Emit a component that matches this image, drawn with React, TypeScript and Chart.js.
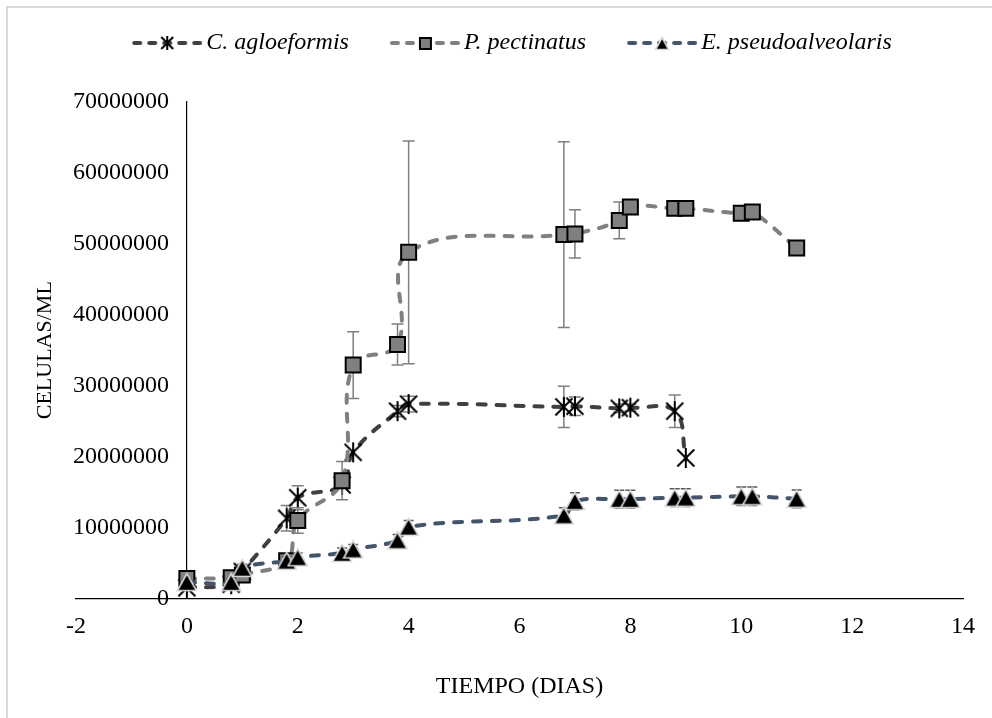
import React, { useEffect, useRef } from 'react';
import { Chart, registerables } from 'chart.js';

Chart.register(...registerables);

// ---------- data ----------
const SERIES_NAMES = ['C. agloeformis', 'P. pectinatus', 'E. pseudoalveolaris'];

const DAYS_C = [0, 0.8, 1, 1.8, 2, 2.8, 3, 3.8, 4, 6.8, 7, 7.8, 8, 8.8, 9];
const CELLS_C = [1500000, 2000000, 3800000, 11300000, 14200000, 16000000, 20600000, 26400000, 27400000, 27000000, 27100000, 26800000, 26900000, 26400000, 19800000];
const ERR_C = [0, 0, 0, 1800000, 1700000, 0, 0, 800000, 1100000, 2900000, 1300000, 600000, 500000, 2300000, 0];

const DAYS_P = [0, 0.8, 1, 1.8, 2, 2.8, 3, 3.8, 4, 6.8, 7, 7.8, 8, 8.8, 9, 10, 10.2, 11];
const CELLS_P = [2800000, 2900000, 3300000, 5300000, 11000000, 16600000, 32900000, 35800000, 48800000, 51300000, 51400000, 53300000, 55200000, 55000000, 55000000, 54300000, 54500000, 49400000];
const ERR_P = [0, 0, 0, 0, 1800000, 2700000, 4700000, 2900000, 15700000, 13100000, 3400000, 2600000, 500000, 0, 0, 0, 0, 0];

const DAYS_E = [0, 0.8, 1, 1.8, 2, 2.8, 3, 3.8, 4, 6.8, 7, 7.8, 8, 8.8, 9, 10, 10.2, 11];
const CELLS_E = [2300000, 2300000, 4300000, 5300000, 5800000, 6400000, 6900000, 8200000, 10100000, 11700000, 13700000, 14000000, 14000000, 14200000, 14200000, 14400000, 14400000, 14050000];
const ERR_E = [400000, 400000, 500000, 600000, 600000, 700000, 700000, 800000, 900000, 1100000, 1200000, 1250000, 1250000, 1250000, 1250000, 1300000, 1300000, 1250000];

const X_MIN = -2;
const X_MAX = 14;
const X_STEP = 2;
const Y_MIN = 0;
const Y_MAX = 70000000;
const Y_STEP = 10000000;

const X_TITLE = 'TIEMPO (DIAS)';
const Y_TITLE = 'CELULAS/ML';

// ---------- styles ----------
const FONT = 'Liberation Serif';
const COLOR_C = '#404040';
const COLOR_P = '#808080';
const COLOR_E = '#44546A';
const LEGEND_BOX = 93;

function asteriskCanvas(size: number, lw: number): HTMLCanvasElement {
  const c = document.createElement('canvas');
  c.width = size;
  c.height = size;
  const g = c.getContext('2d')!;
  g.strokeStyle = '#000';
  g.lineWidth = lw;
  const h = size / 2;
  const a = h - 1;
  g.beginPath();
  g.moveTo(h, h - a);
  g.lineTo(h, h + a);
  g.moveTo(h - a * 0.85, h - a * 0.85);
  g.lineTo(h + a * 0.85, h + a * 0.85);
  g.moveTo(h + a * 0.85, h - a * 0.85);
  g.lineTo(h - a * 0.85, h + a * 0.85);
  g.stroke();
  return c;
}

function triangleCanvas(w: number, hgt: number): HTMLCanvasElement {
  const c = document.createElement('canvas');
  c.width = w;
  c.height = hgt;
  const g = c.getContext('2d')!;
  g.beginPath();
  g.moveTo(w / 2, 1.5);
  g.lineTo(w - 1.5, hgt - 1.5);
  g.lineTo(1.5, hgt - 1.5);
  g.closePath();
  g.fillStyle = '#000';
  g.fill();
  g.strokeStyle = '#d9d9d9';
  g.lineWidth = 1.6;
  g.stroke();
  return c;
}

function squareCanvas(s: number): HTMLCanvasElement {
  const c = document.createElement('canvas');
  c.width = s + 2;
  c.height = s + 2;
  const g = c.getContext('2d')!;
  g.fillStyle = COLOR_P;
  g.fillRect(1, 1, s, s);
  g.strokeStyle = '#000';
  g.lineWidth = 2;
  g.strokeRect(2, 2, s - 2, s - 2);
  return c;
}

function legendIcon(lineColor: string, marker: HTMLCanvasElement): HTMLCanvasElement {
  const W = LEGEND_BOX + 16;
  const H = 24;
  const c = document.createElement('canvas');
  c.width = W;
  c.height = H;
  const g = c.getContext('2d')!;
  const cx = W / 2 + (LEGEND_BOX / 2 - 27);
  const cy = H / 2;
  g.strokeStyle = lineColor;
  g.lineWidth = 4;
  g.lineCap = 'round';
  g.setLineDash([6, 9]);
  g.beginPath();
  g.moveTo(cx - 33, cy);
  g.lineTo(cx + 33, cy);
  g.stroke();
  g.setLineDash([]);
  g.drawImage(marker, Math.round(cx - marker.width / 2), Math.round(cy - marker.height / 2));
  return c;
}

const SERIES_ERR = [
  { days: DAYS_C, cells: CELLS_C, err: ERR_C, color: '#7f7f7f', cap: 6 },
  { days: DAYS_P, cells: CELLS_P, err: ERR_P, color: '#7f7f7f', cap: 6 },
  { days: DAYS_E, cells: CELLS_E, err: ERR_E, color: '#595959', cap: 5 },
];

const errorBarPlugin = {
  id: 'errorBars',
  beforeDatasetDraw(chart: any, args: any) {
    const s = SERIES_ERR[args.index];
    if (!s) return;
    const { ctx } = chart;
    const xs = chart.scales.x;
    const ys = chart.scales.y;
    ctx.save();
    ctx.strokeStyle = s.color;
    ctx.lineWidth = 1.5;
    s.days.forEach((d: number, i: number) => {
      const e = s.err[i];
      if (!e) return;
      const px = xs.getPixelForValue(d);
      const t = ys.getPixelForValue(s.cells[i] + e);
      const b = ys.getPixelForValue(s.cells[i] - e);
      ctx.beginPath();
      ctx.moveTo(px, t);
      ctx.lineTo(px, b);
      ctx.moveTo(px - s.cap, t);
      ctx.lineTo(px + s.cap, t);
      ctx.moveTo(px - s.cap, b);
      ctx.lineTo(px + s.cap, b);
      ctx.stroke();
    });
    ctx.restore();
  },
};

export default function App() {
  const ref = useRef<HTMLCanvasElement | null>(null);

  useEffect(() => {
    if (!ref.current) return;
    const star = asteriskCanvas(22, 2);
    const tri = triangleCanvas(22, 20);
    const starSmall = asteriskCanvas(16, 2);
    const triSmall = triangleCanvas(16, 15);
    const sqSmall = squareCanvas(13);
    const legendIcons = [
      legendIcon(COLOR_C, starSmall),
      legendIcon(COLOR_P, sqSmall),
      legendIcon(COLOR_E, triSmall),
    ];

    const tickFont = { family: FONT, size: 24 };
    const yTitleFont = { family: FONT, size: 22 };
    const lineCommon = {
      showLine: true,
      borderWidth: 4,
      borderDash: [8, 11],
      borderCapStyle: 'round' as const,
      tension: 0.4,
      fill: false,
      xAxisID: 'x',
      yAxisID: 'y',
    };

    const chart = new Chart(ref.current, {
      type: 'scatter',
      data: {
        datasets: [
          {
            ...lineCommon,
            label: SERIES_NAMES[0],
            data: DAYS_C.map((x, i) => ({ x, y: CELLS_C[i] })),
            borderColor: COLOR_C,
            backgroundColor: COLOR_C,
            pointStyle: star as any,
            pointRadius: 11,
            pointHoverRadius: 11,
            order: 2,
          },
          {
            ...lineCommon,
            label: SERIES_NAMES[1],
            data: DAYS_P.map((x, i) => ({ x, y: CELLS_P[i] })),
            borderColor: COLOR_P,
            backgroundColor: COLOR_P,
            pointStyle: 'rect',
            pointRadius: 10.6,
            pointHoverRadius: 10.6,
            pointBackgroundColor: COLOR_P,
            pointBorderColor: '#000',
            pointBorderWidth: 2,
            order: 1,
          },
          {
            ...lineCommon,
            label: SERIES_NAMES[2],
            data: DAYS_E.map((x, i) => ({ x, y: CELLS_E[i] })),
            borderColor: COLOR_E,
            backgroundColor: COLOR_E,
            pointStyle: tri as any,
            pointRadius: 11,
            pointHoverRadius: 11,
            order: 0,
          },
        ] as any,
      },
      options: {
        animation: false,
        responsive: false,
        devicePixelRatio: 1,
        events: [],
        layout: { padding: { left: 30, right: 29, top: 21, bottom: 16.6 } },
        plugins: {
          tooltip: { enabled: false },
          legend: {
            position: 'top',
            align: 'center',
            labels: {
              usePointStyle: true,
              pointStyleWidth: LEGEND_BOX,
              padding: 10,
              color: '#000',
              font: { family: FONT, size: 24, style: 'italic' },
              generateLabels: () =>
                SERIES_NAMES.map((name, i) => ({
                  text: name,
                  pointStyle: legendIcons[i] as any,
                  datasetIndex: i,
                  hidden: false,
                  fillStyle: 'rgba(0,0,0,0)',
                  strokeStyle: 'rgba(0,0,0,0)',
                  lineWidth: 0,
                  fontColor: '#000',
                })),
            },
          },
        },
        scales: {
          x: {
            type: 'linear',
            position: 'bottom',
            min: X_MIN,
            max: X_MAX,
            ticks: { stepSize: X_STEP, color: '#000', font: tickFont, padding: 13.6, autoSkip: false },
            grid: { display: false, drawTicks: false },
            border: { display: true, color: '#000', width: 1.2 },
            title: { display: true, text: X_TITLE, color: '#000', font: tickFont, padding: { top: 18.2, bottom: 0 } },
          },
          y: {
            type: 'linear',
            position: { x: 0 } as any,
            min: Y_MIN,
            max: Y_MAX,
            ticks: {
              stepSize: Y_STEP,
              color: '#000',
              font: tickFont,
              autoSkip: false,
              callback: (v: any) => String(v) + '   ',
            },
            grid: { display: false, drawTicks: false },
            border: { display: true, color: '#000', width: 1.2 },
          },
          yTitle: {
            type: 'linear',
            axis: 'y',
            position: 'left',
            min: 0,
            max: 1,
            ticks: { display: false },
            grid: { display: false, drawTicks: false },
            border: { display: false },
            title: { display: true, text: Y_TITLE, color: '#000', font: yTitleFont, padding: { top: 1.8, bottom: 17.8 } },
          },
          xTop: {
            type: 'linear',
            axis: 'x',
            position: 'top',
            min: 0,
            max: 1,
            ticks: { display: false },
            grid: { display: false, drawTicks: false },
            border: { display: false },
            title: { display: true, text: ' ', font: { family: FONT, size: 1, lineHeight: 1 }, padding: { top: 36, bottom: 0 } },
          },
        } as any,
      },
      plugins: [errorBarPlugin],
    });
    return () => chart.destroy();
  }, []);

  return (
    <div style={{ position: 'absolute', left: 0, top: 0, width: 992, height: 718, background: '#fff', overflow: 'hidden' }}>
      <canvas ref={ref} width={992} height={718} style={{ display: 'block', width: 992, height: 718 }} />
      <div
        style={{
          position: 'absolute',
          left: 6,
          top: 6,
          width: 986,
          height: 712,
          borderLeft: '2px solid #d9d9d9',
          borderTop: '2px solid #d9d9d9',
          boxSizing: 'border-box',
          pointerEvents: 'none',
        }}
      />
    </div>
  );
}
